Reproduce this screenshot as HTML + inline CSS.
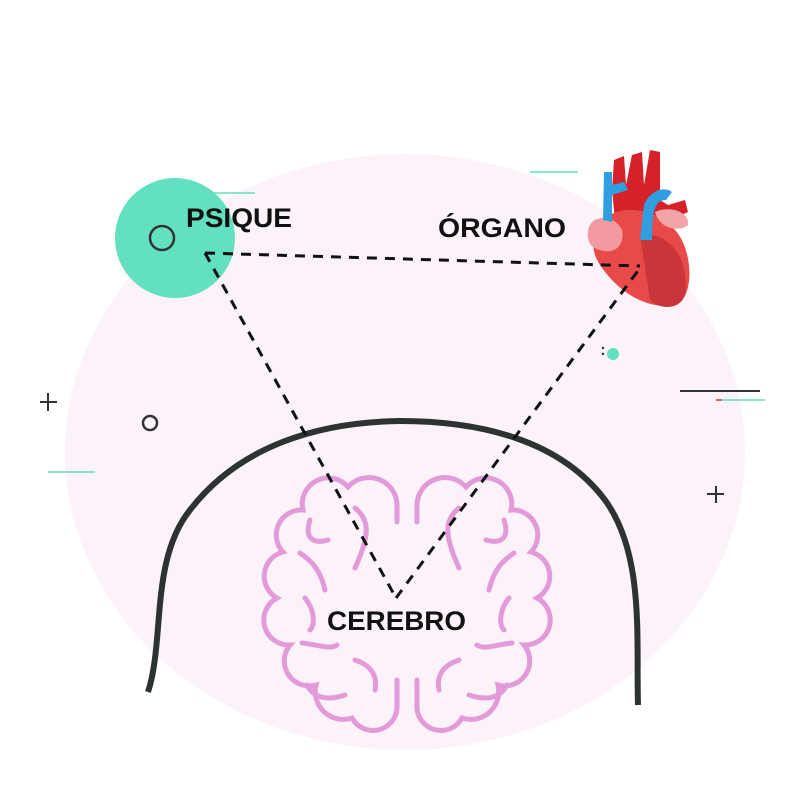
<!DOCTYPE html>
<html><head><meta charset="utf-8"><style>
html,body{margin:0;padding:0;background:#fff;}
svg{display:block}
text{font-family:"Liberation Sans",sans-serif;font-weight:bold;fill:#111}
</style></head><body>
<svg width="800" height="800" viewBox="0 0 800 800" xmlns="http://www.w3.org/2000/svg">
<ellipse cx="405" cy="452" rx="340" ry="298" fill="#fbf3f9"/>
<path d="M148 692 C165 640 150 560 190 510 C240 445 320 422 400 421 C480 421 560 440 605 500 C645 555 636 640 638 705" fill="none" stroke="#2d3331" stroke-width="6"/>
<g fill="none" stroke="#e39ad9" stroke-width="5" stroke-linecap="round">
<g id="half">
<path d="M397 522 L397 505 A28 28 0 0 0 348 487 A26 26 0 0 0 303 510 A25 25 0 0 0 283 552 A25 25 0 0 0 277 598 A25 25 0 0 0 290 645 A25 25 0 0 0 316 685 A28 28 0 0 0 352 718 A24 24 0 0 0 397 705 L397 680"/>
<path d="M310 520 C305 535 310 545 328 540"/>
<path d="M300 553 C310 560 320 568 325 590"/>
<path d="M305 598 C315 610 315 625 310 630"/>
<path d="M302 643 C320 645 330 650 337 645"/>
<path d="M355 508 C370 520 370 535 355 568"/>
<path d="M355 660 C370 665 378 675 375 690"/>
<path d="M307 685 C315 700 330 700 345 695"/>
</g>
<use href="#half" transform="translate(814 0) scale(-1 1)"/>
</g>
<circle cx="175" cy="238" r="60" fill="#63e0c0"/>
<circle cx="162" cy="238" r="12" fill="none" stroke="#333" stroke-width="2.5"/>
<g>
<path d="M612 190 L614 160 L624 156 L626 185 L632 155 L642 152 L644 185 L650 150 L660 152 L660 200 L668 205 L685 200 L688 212 L670 220 L640 228 L615 220 Z" fill="#d5212a"/>
<path d="M600 225 C610 205 650 205 670 225 C695 245 695 300 675 305 C650 310 620 295 600 265 C590 250 592 235 600 225 Z" fill="#e84a4a"/>
<path d="M640 235 C670 230 690 260 685 295 C680 310 660 310 650 300" fill="#c93538"/>
<path d="M590 225 C595 215 615 215 622 230 C625 245 615 255 600 250 C588 248 585 235 590 225 Z" fill="#f29aa0"/>
<path d="M655 212 C670 205 690 212 688 225 C680 232 660 230 655 212 Z" fill="#f2a3a6"/>
<path d="M604 172 L603 220 L612 222 L612 195 L628 190 L624 182 L612 185 L612 172 Z" fill="#2f9fe0"/>
<path d="M640 240 L644 205 C650 190 665 186 672 192 L666 200 C655 200 652 210 652 240 Z" fill="#2f9fe0"/>
</g>
<g stroke="#111" stroke-width="3" stroke-dasharray="10 8" fill="none">
<line x1="205" y1="253" x2="640" y2="266"/>
<line x1="205" y1="253" x2="396" y2="598"/>
<line x1="396" y1="598" x2="640" y2="268"/>
</g>
<text x="186" y="227" font-size="27" textLength="106" lengthAdjust="spacingAndGlyphs">PSIQUE</text>
<text x="438" y="237" font-size="27" textLength="128" lengthAdjust="spacingAndGlyphs">ÓRGANO</text>
<text x="327" y="630" font-size="27" textLength="139" lengthAdjust="spacingAndGlyphs">CEREBRO</text>
<g stroke="#333" stroke-width="2">
<line x1="40" y1="402" x2="57" y2="402"/><line x1="48" y1="393" x2="48" y2="411"/>
<line x1="707" y1="494" x2="724" y2="494"/><line x1="716" y1="486" x2="716" y2="503"/>
<line x1="680" y1="391" x2="760" y2="391"/>
</g>
<circle cx="150" cy="423" r="7" fill="none" stroke="#333" stroke-width="2.5"/>
<g stroke="#63e0c0" stroke-width="1.5">
<line x1="48" y1="472" x2="95" y2="472"/>
<line x1="718" y1="400" x2="765" y2="400"/>
<line x1="210" y1="193" x2="255" y2="193"/>
<line x1="530" y1="172" x2="578" y2="172"/>
</g>
<line x1="716" y1="400" x2="722" y2="400" stroke="#e33" stroke-width="1.5"/>
<circle cx="613" cy="354" r="6" fill="#63e0c0"/>
<circle cx="603" cy="348" r="1.2" fill="#333"/><circle cx="603" cy="354" r="1.2" fill="#333"/>
</svg>
</body></html>
